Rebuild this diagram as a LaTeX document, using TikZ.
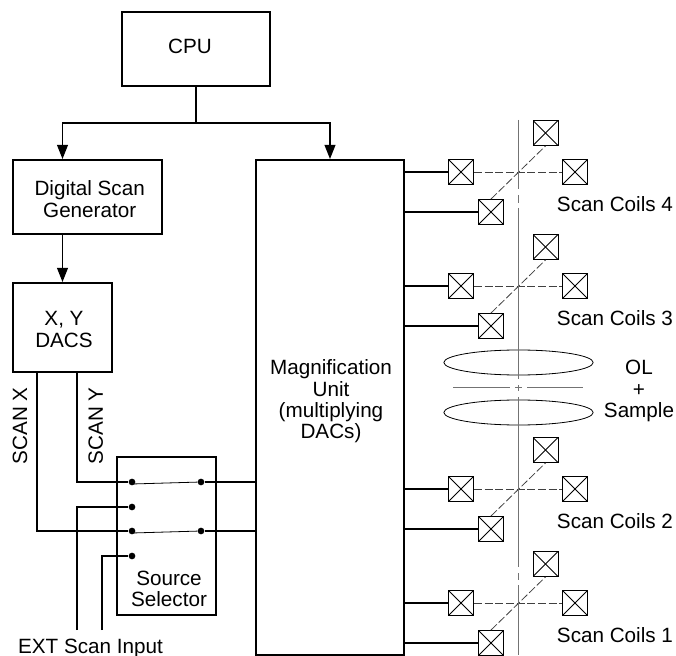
\documentclass[tikz,border=0pt]{standalone}
\usepackage{fontspec}
\setmainfont{Liberation Sans}
\usetikzlibrary{calc}
\usetikzlibrary{arrows.meta}
\usetikzlibrary{shapes.geometric}

\tikzset{
  box/.style={draw, line width=1.5pt, inner sep=0pt},
  wire/.style={line width=1.3pt},
  feed/.style={line width=1.3pt, -{Triangle[length=10.5pt,width=8pt]}},
  txt/.style={inner sep=0pt, align=center, font=\fontsize{15.5}{16}\selectfont},
  contact/.style={circle, fill, inner sep=0pt, minimum size=5pt},
  coil/.style={draw, line width=.7pt, inner sep=0pt, minimum size=18.75pt, path picture={
    \draw[line width=.6pt] (path picture bounding box.north west) -- (path picture bounding box.south east);
    \draw[line width=.6pt] (path picture bounding box.north east) -- (path picture bounding box.south west);}},
  link/.style={line width=.6pt, black!75, dash pattern=on 6pt off 2pt},
  axis/.style={line width=.7pt, black!55},
  lens/.style={draw, ellipse, line width=.6pt, minimum width=112pt, minimum height=18.75pt, inner sep=0pt},
}

\begin{document}
\begin{tikzpicture}[x=.75pt, y=-.75pt]
\useasboundingbox (0,0) rectangle (676,656);

\node[box, minimum width=111pt, minimum height=55.5pt] (cpu) at (196,49) {};
\node[box, minimum width=111.75pt, minimum height=55.5pt] (gen) at (87.5,197) {};
\node[box, minimum width=74.25pt, minimum height=66.75pt] (dacs) at (62.5,327.5) {};
\node[box, minimum width=111pt, minimum height=371.25pt] (mag) at (330,407.5) {};
\node[box, minimum width=74.25pt, minimum height=118.5pt] (sel) at (166.5,536) {};

\node[txt] (cputxt) at (190,46) {CPU};
\node[txt] (gentxt) at (89.7,199) {Digital Scan\\Generator};
\node[txt] (dacstxt) at (64,329.5) {X, Y\\DACS};
\node[txt] (magtxt) at (331,401.5) {Magnification\\Unit\\(multiplying\\DACs)};
\node[txt] (seltxt) at (169,589) {Source\\Selector};

\coordinate (split) at (196,123);
\draw[wire] (cpu) -- (split);
\draw[feed] (split) -| (dacs |- gen.north);
\draw[feed] (split) -| (mag.north);
\draw[feed] (dacs |- gen.south) -- (dacs.north);

% source selector
\node[contact] (a1) at (132,482) {};
\node[contact] (a2) at (132,507) {};
\node[contact] (a3) at (132,531) {};
\node[contact] (a4) at (132,556) {};
\node[contact] (b1) at (201,482) {};
\node[contact] (b3) at (201,531) {};

\coordinate (scanx) at (37.3,372);
\coordinate (scany) at (77.3,372);
\coordinate (ext1) at (77.3,630);
\coordinate (ext2) at (101.7,630);

\draw[wire] (scany) |- (a1);
\draw[wire] (scanx) |- (a3);
\draw[wire] (ext1) |- (a2);
\draw[wire] (ext2) |- (a4);
\draw[wire] (b1) -- (b1 -| mag.west);
\draw[wire] (b3) -- (b3 -| mag.west);
\draw[line width=.6pt] (a1)++(0,2) -- (b1);
\draw[line width=.6pt] (a3)++(0,2) -- (b3);

\node[txt, rotate=90] (xlabel) at (20,426) {SCAN X};
\node[txt, rotate=90] (ylabel) at (95.7,426) {SCAN Y};
\node[txt] (extlabel) at (90.5,648) {EXT Scan Input};

% scan coils
\foreach \n/\y in {4/172,3/286,2/489,1/603} {
  \coordinate (O) at (518,\y);
  \node[coil] (left\n) at ($(O)+(-57,0)$) {};
  \node[coil] (right\n) at ($(O)+(57,0)$) {};
  \node[coil] (top\n) at ($(O)+(27.5,-39)$) {};
  \node[coil] (low\n) at ($(O)+(-27,40)$) {};
  \draw[link] (left\n) -- (right\n);
  \draw[link] (low\n.north) -- (top\n.south);
  \draw[wire] (left\n) -- (left\n -| mag.east);
  \draw[wire] (low\n) -- (low\n -| mag.east);
  \node[txt] (coils\n) at ($(O)+(97,32)$) {Scan Coils \n};
}

% lens
\node[lens] (upper) at (518.5,362.5) {};
\node[lens] (lower) at (518.5,412.5) {};
\node[txt] (ol) at (639,391) {OL\\+\\Sample};

\coordinate (s1) at (453,387.7);
\coordinate (s2) at (510,387.7);
\coordinate (s3) at (527,387.7);
\coordinate (s4) at (583,387.7);
\draw[axis] (s1) -- (s2);
\draw[axis] (s3) -- (s4);
\draw[axis] (515,387.7) -- (522,387.7);

\draw[axis] (518.3,120) -- (518.3,189);
\draw[axis] (518.3,195) -- (518.3,203);
\draw[axis] (518.3,208) -- (518.3,379);
\draw[axis] (518.3,385) -- (518.3,391);
\draw[axis] (518.3,397) -- (518.3,567);
\draw[axis] (518.3,573) -- (518.3,580);
\draw[axis] (518.3,585) -- (518.3,655);
\end{tikzpicture}
\end{document}
